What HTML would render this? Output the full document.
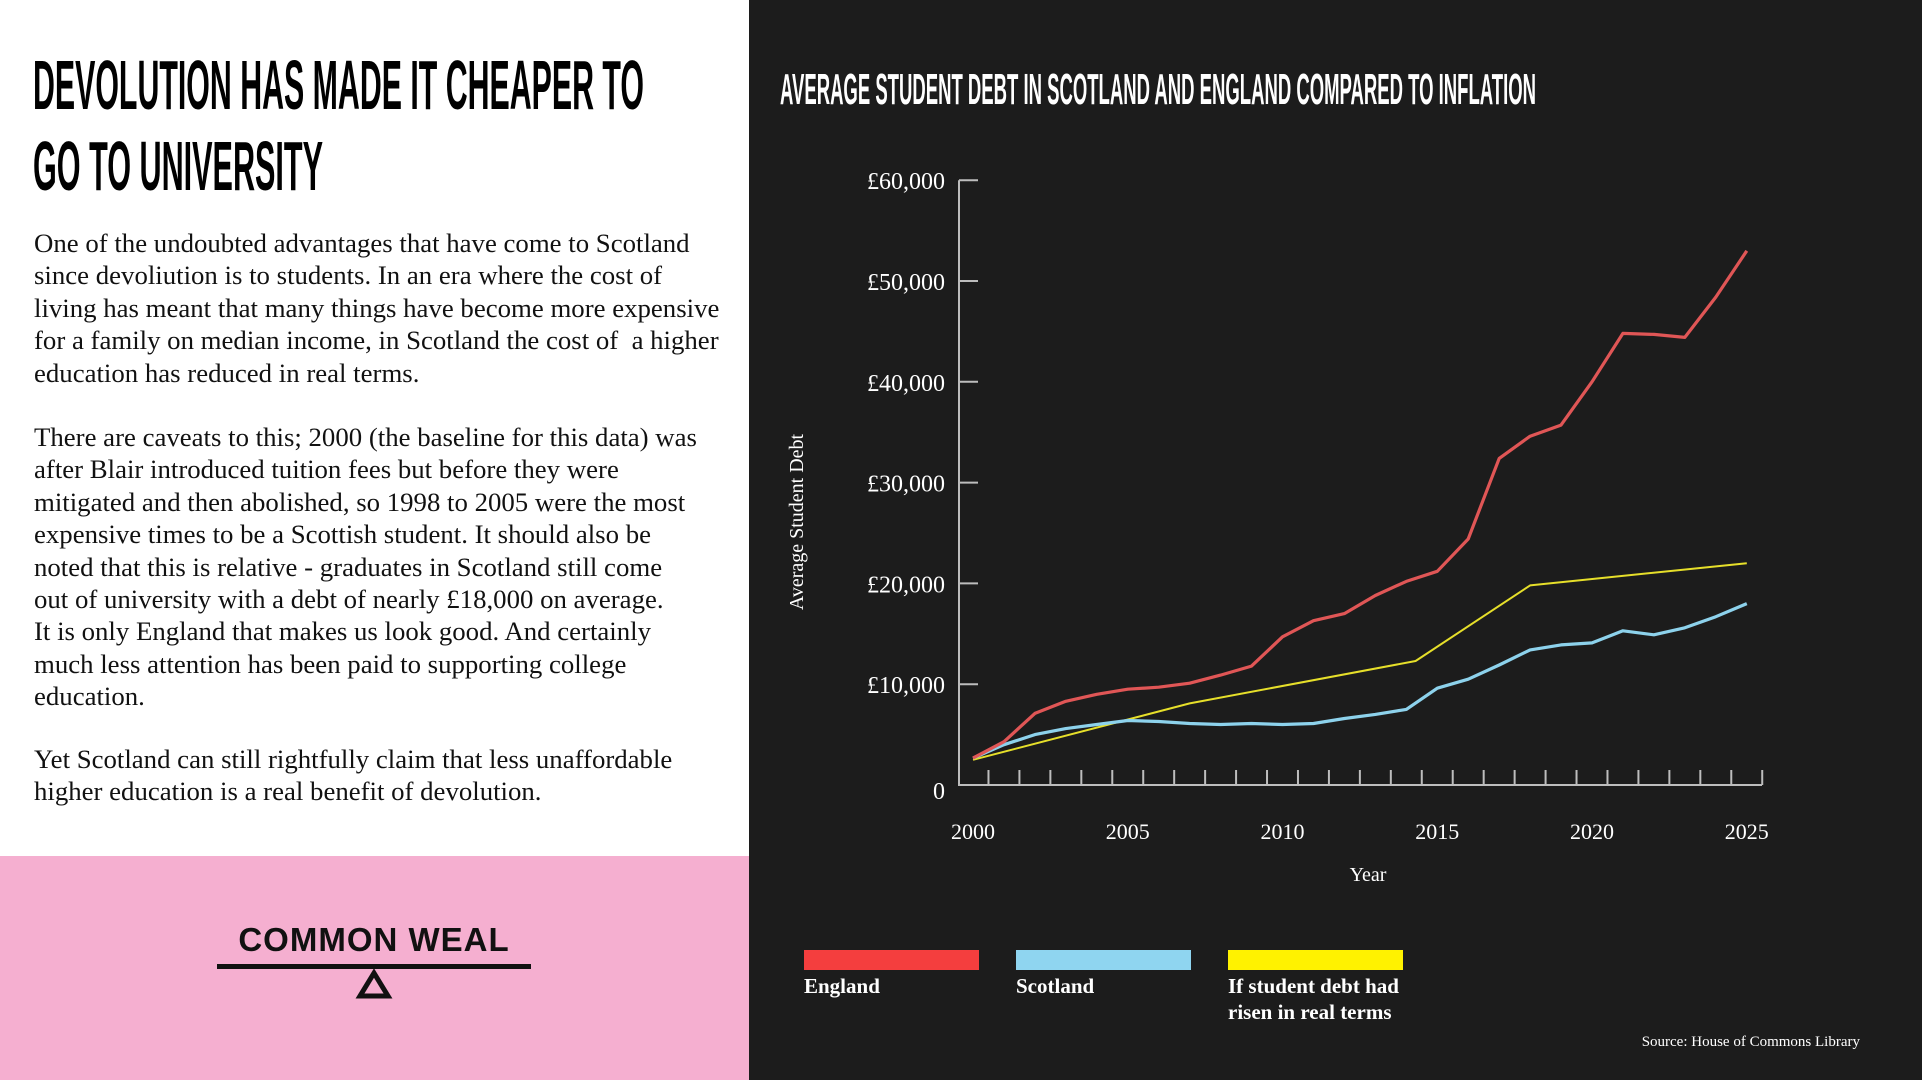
<!DOCTYPE html>
<html><head><meta charset="utf-8">
<style>
*{margin:0;padding:0;box-sizing:border-box}
html,body{width:1922px;height:1080px;overflow:hidden}
body{background:#1c1c1c;position:relative;font-family:"Liberation Serif",serif}
#left{position:absolute;left:0;top:0;width:749px;height:856px;background:#fff}
#pink{position:absolute;left:0;top:856px;width:749px;height:224px;background:#f5afd0;overflow:hidden}
#pink svg{display:block}
.fit{position:absolute;white-space:nowrap;font-family:"Liberation Sans Narrow","Liberation Sans",sans-serif;font-weight:bold;transform-origin:0 0;line-height:1}
.body{position:absolute;left:34px;font-size:26.8px;color:#111;white-space:nowrap;line-height:32.4px}
svg text{font-family:"Liberation Serif",serif}
#chart{display:block}
</style></head><body>
<div id="left">
  <div class="fit" data-w="611" style="left:33px;top:50px;font-size:70px;color:#000">DEVOLUTION HAS MADE IT CHEAPER TO</div>
  <div class="fit" data-w="290" style="left:33px;top:131px;font-size:70px;color:#000">GO TO UNIVERSITY</div>
  <div class="body" style="top:227px">One of the undoubted advantages that have come to Scotland<br>since devoliution is to students. In an era where the cost of<br>living has meant that many things have become more expensive<br>for a family on median income, in Scotland the cost of &nbsp;a higher<br>education has reduced in real terms.</div>
  <div class="body" style="top:421px">There are caveats to this; 2000 (the baseline for this data) was<br>after Blair introduced tuition fees but before they were<br>mitigated and then abolished, so 1998 to 2005 were the most<br>expensive times to be a Scottish student. It should also be<br>noted that this is relative - graduates in Scotland still come<br>out of university with a debt of nearly £18,000 on average.<br>It is only England that makes us look good. And certainly<br>much less attention has been paid to supporting college<br>education.</div>
  <div class="body" style="top:743px">Yet Scotland can still rightfully claim that less unaffordable<br>higher education is a real benefit of devolution.</div>
</div>
<div id="pink">
  <svg width="749" height="224">
    <text x="374" y="95" text-anchor="middle" style="font-family:'Liberation Sans',sans-serif;font-weight:bold;font-size:33px;letter-spacing:1px" fill="#111">COMMON WEAL</text>
    <rect x="217" y="108" width="314" height="5" fill="#111"/>
    <polygon points="374,117 360,140 388,140" fill="none" stroke="#111" stroke-width="5"/>
  </svg>
</div>
<div class="fit" data-w="756" style="left:780px;top:68px;font-size:44px;color:#fff">AVERAGE STUDENT DEBT IN SCOTLAND AND ENGLAND COMPARED TO INFLATION</div>
<svg id="chart" width="1922" height="1080" style="position:absolute;left:0;top:0"></svg>
<script>
const years=[2000,2001,2002,2003,2004,2005,2006,2007,2008,2009,2010,2011,2012,2013,2014,2015,2016,2017,2018,2019,2020,2021,2022,2023,2024,2025];
const england=[2670,4300,7100,8300,9000,9500,9700,10100,10900,11800,14700,16300,17000,18800,20200,21200,24400,32400,34600,35700,40000,44800,44700,44400,48400,53000];
const scotland=[2670,4000,5000,5600,6000,6400,6300,6100,6000,6100,6000,6100,6600,7000,7500,9600,10500,11900,13400,13900,14100,15300,14900,15600,16700,18000];
const realYears=[2000,2007,2014.3,2018,2025];
const realTerms=[2500,8100,12300,19800,22000];
const yTicks=[0,10000,20000,30000,40000,50000,60000];
const yTickLabels=["0","£10,000","£20,000","£30,000","£40,000","£50,000","£60,000"];
const xTicks=[2000,2005,2010,2015,2020,2025];

const NS="http://www.w3.org/2000/svg";
const svg=document.getElementById('chart');
const X=v=>973+(v-2000)*30.95;
const Y=v=>785-v*0.01008;
function mk(tag,attrs,parent){const e=document.createElementNS(NS,tag);for(const k in attrs)e.setAttribute(k,attrs[k]);(parent||svg).appendChild(e);return e;}
const ax='#bdbdbd';
let e;
e=mk('line',{x1:959,y1:Y(60000),x2:959,y2:785,stroke:ax,'stroke-width':2});


e=mk('line',{x1:958,y1:785,x2:1762,y2:785,stroke:ax,'stroke-width':2});


yTicks.forEach((v,i)=>{
  if(v>0){
    const t=mk('line',{x1:959,y1:Y(v),x2:978,y2:Y(v),stroke:ax,'stroke-width':2});
    
    
  }
  const l=mk('text',{x:945,y:Y(v)+(v===0?14:9),'text-anchor':'end',fill:'#fff','font-size':24});
  l.textContent=yTickLabels[i];
  
  
});
for(let i=0;i<26;i++){
  const t=mk('line',{x1:X(2000.5+i),y1:785,x2:X(2000.5+i),y2:770,stroke:ax,'stroke-width':2});
  
  
}
xTicks.forEach(v=>{
  const l=mk('text',{x:X(v),y:839,'text-anchor':'middle',fill:'#fff','font-size':22});
  l.textContent=v;
  
  
});
e=mk('text',{x:1368,y:881,'text-anchor':'middle',fill:'#fff','font-size':20});
e.textContent='Year';


e=mk('text',{x:0,y:0,'text-anchor':'middle',fill:'#fff','font-size':20,transform:'translate(803,522) rotate(-90)'});
e.textContent='Average Student Debt';


function path(xs,ys,color,w,name){
  const d=xs.map((x,i)=>(i?'L':'M')+X(x).toFixed(1)+','+Y(ys[i]).toFixed(1)).join('');
  const p=mk('path',{d:d,fill:'none',stroke:color,'stroke-width':w,'stroke-linejoin':'round'});
  
  
}
path(realYears,realTerms,'#e6df2a',2,'real-terms-line');
path(years,scotland,'#8dd2ec',3.2,'scotland-line');
path(years,england,'#e05656',3.2,'england-line');
const leg=[[804,'#f43e3e',['England'],'legend-england'],[1016,'#8fd5f0',['Scotland'],'legend-scotland'],[1228,'#fff200',['If student debt had','risen in real terms'],'legend-real-terms']];
leg.forEach(([x,c,lines,n])=>{
  const g=mk('g',{});
  
  
  mk('rect',{x:x,y:950,width:175,height:20,fill:c},g);
  lines.forEach((s,i)=>{const t=mk('text',{x:x,y:993+i*26,fill:'#fff','font-size':21,'font-weight':'bold'},g);t.textContent=s;});
});
e=mk('text',{x:1860,y:1046,'text-anchor':'end',fill:'#fff','font-size':15});
e.textContent='Source: House of Commons Library';


document.querySelectorAll('.fit').forEach(el=>{const w=el.getBoundingClientRect().width;el.style.transform='scaleX('+(+el.dataset.w/w)+')';});
</script>
</body></html>
